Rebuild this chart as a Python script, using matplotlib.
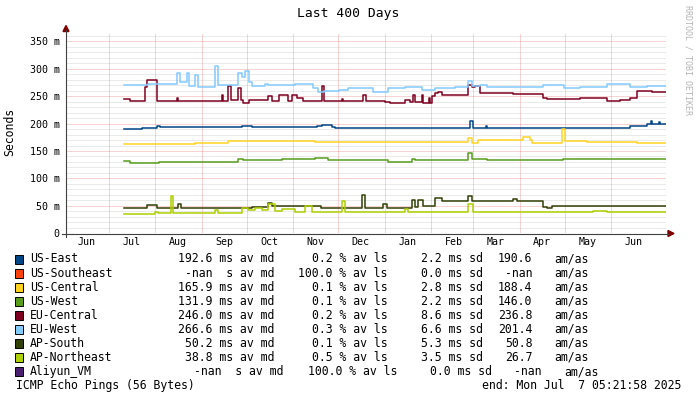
import matplotlib
matplotlib.use("Agg")
import matplotlib.pyplot as plt
from matplotlib.patches import Rectangle, Polygon
from matplotlib.lines import Line2D
from datetime import datetime, timedelta

plt.rcParams['font.family'] = ['DejaVu Sans Mono']

# time axis: 400 days ending at the graph's end time
end_time = datetime(2025, 7, 7, 5, 21, 58)
start_time = end_time - timedelta(days=400)
span_days = 400

# series data: days since start_time where the value changes, and median RTT in ms
us_east_days = [39, 46, 50.8, 60.8, 63, 117.4, 124, 167.4, 170.8, 177.4, 179.7, 269.7, 271.9,
                280, 281, 376.3, 387.4, 390, 391, 395.5, 396.5]
us_east_ms = [191, 190, 192, 196, 193, 195, 193, 196, 198, 194, 192, 205, 192,
              195, 192, 195, 199, 205, 199, 203, 199]

us_central_days = [39, 86.3, 108.6, 153, 166.3, 268.6, 270.8, 275.2, 279.6, 305.2, 309.6, 310.7,
                   330.7, 333, 347.4, 380.7]
us_central_ms = [162, 164, 168, 169, 167, 173, 165, 170, 170, 175, 170, 165,
                 191, 169, 167, 164]

us_west_days = [39, 43, 62, 115.2, 118.6, 144.1, 166.3, 175.2, 215.2, 230.8, 233, 268.6, 270.8,
                280.7, 295, 331.9]
us_west_ms = [132, 129, 130, 135, 133, 135, 137, 133, 130, 136, 134, 146, 135,
              133, 134, 135]

eu_central_days = [39, 43, 46.3, 53, 54.6, 60.8, 74.1, 75.2, 104.1, 105.2, 108.6, 110.3, 115.2, 117,
                   118.6, 122, 135.2, 137.4, 142, 148.6, 150.8, 154.1, 158.6, 170.8, 172.6, 184.1,
                   185.2, 198.6, 200.1, 213, 216.3, 226.3, 229.7, 231.9, 233, 237.4, 238.6, 242,
                   243, 244.1, 246.3, 248.6, 250.8, 253, 262, 268.6, 270.8, 273, 276.3, 283,
                   298.5, 318.5, 320.7, 343, 360.7, 369.6, 376.3, 380.7, 390.7, 394.1]
eu_central_ms = [244, 242, 241, 267, 279, 241, 247, 241, 252, 242, 268, 243, 264, 243,
                 238, 243, 250, 241, 252, 241, 253, 247, 242, 268, 241, 244,
                 241, 252, 241, 240, 238, 243, 240, 252, 240, 253, 238, 246,
                 238, 250, 255, 258, 253, 252, 253, 270, 267, 268, 256, 255,
                 254, 246, 245, 247, 241, 243, 246, 260, 257, 258]

eu_west_days = [39, 55, 74, 76.3, 80.8, 82, 86.3, 88.6, 99.7, 101.4, 115.2, 117.4, 119.7, 122, 124,
                133, 135, 153, 165.2, 168.6, 172, 182, 188.6, 205.2, 215.2, 226.3, 237.4, 246.3,
                259.7, 268.6, 270.8, 276.3, 280.7, 285.2, 303, 318.5, 332, 343, 360.7, 376.3, 387.4]
eu_west_ms = [270, 272, 292, 275, 293, 268, 288, 267, 305, 270, 292, 285, 296, 276, 268,
              272, 270, 272, 264, 257, 259, 261, 264, 258, 264, 266, 262, 265,
              267, 278, 268, 270, 267, 266, 267, 270, 265, 267, 272, 266, 268]

ap_south_days = [39, 54.1, 60.8, 75.2, 76.8, 115.2, 124.1, 135.2, 137.4, 170, 197.4, 199.7, 211.9,
                 214.1, 230.8, 233, 235.2, 238.6, 246.3, 250.8, 268.6, 270.8, 298.5, 300.7,
                 318.5, 320.7, 324.1]
ap_south_ms = [46, 51, 46.5, 53, 46, 47, 48, 55, 49, 47, 70, 47, 54,
               47, 61, 48, 61, 49, 65, 59, 68, 59, 62, 58,
               48, 46, 49]

ap_northeast_days = [39, 59.7, 61.9, 70.3, 71.9, 99.7, 101.9, 117.4, 121.9, 126.3, 130.8, 135.2,
                     139.7, 144.1, 153, 159.7, 164.1, 184.1, 186.3, 201.9, 226.3, 228.6, 268.6,
                     271.9, 351.9, 360.7]
ap_northeast_ms = [36, 39, 37, 68, 37, 43, 37, 47, 42, 47, 43, 54,
                   40, 45, 39, 49, 38, 58, 39, 38, 45, 38, 54,
                   38, 41, 38]

# legend rows: name, colour, avg, loss, sd, am/as
names = ['US-East', 'US-Southeast', 'US-Central', 'US-West', 'EU-Central', 'EU-West',
         'AP-South', 'AP-Northeast', 'Aliyun_VM']
colors = ['#004586', '#ff420e', '#ffd320', '#579d1c', '#7e0021', '#83caff',
          '#314004', '#aecf00', '#4b1f6f']
avg_txt = ['192.6 ms av md', '-nan  s av md', '165.9 ms av md', '131.9 ms av md', '246.0 ms av md',
           '266.6 ms av md', '50.2 ms av md', '38.8 ms av md', '-nan  s av md']
loss_txt = ['0.2', '100.0', '0.1', '0.1', '0.2', '0.3', '0.1', '0.5', '100.0']
sd_txt = ['2.2', '0.0', '2.8', '2.2', '8.6', '6.6', '5.3', '3.5', '0.0']
amas_txt = ['190.6', '-nan', '188.4', '146.0', '236.8', '201.4', '50.8', '26.7', '-nan']

series = {
    'US-East': (us_east_days, us_east_ms),
    'US-Central': (us_central_days, us_central_ms),
    'US-West': (us_west_days, us_west_ms),
    'EU-Central': (eu_central_days, eu_central_ms),
    'EU-West': (eu_west_days, eu_west_ms),
    'AP-South': (ap_south_days, ap_south_ms),
    'AP-Northeast': (ap_northeast_days, ap_northeast_ms),
}

W, H = 697, 399
fig = plt.figure(figsize=(W / 100, H / 100), dpi=100)
fig.patch.set_facecolor('white')


def fx(x):
    return x / W


def fy(y):
    return 1 - y / H


ymax = 365
y0_px = 233.3
px_per_ms = 0.5486
ax = fig.add_axes([fx(65.5), fy(y0_px), 600 / W, ymax * px_per_ms / H])
ax.set_xlim(0, span_days)
ax.set_ylim(0, ymax)
for s in ax.spines.values():
    s.set_visible(False)

# grid
for v in range(10, 361, 10):
    if v % 50 == 0:
        ax.axhline(v, color=(0.87, 0.2, 0.2, 0.42), lw=0.72, ls=(0, (1, 1)), zorder=1)
    else:
        ax.axhline(v, color=(0.55, 0.55, 0.55, 0.35), lw=0.72, ls=(0, (1, 1)), zorder=1)

month_starts = []
month_mids = []
month_names = []
for i in range(13):
    y_, m_ = 2024 + (5 + i) // 12, (5 + i) % 12 + 1
    mid = datetime(y_, m_, 16)
    month_mids.append((mid - start_time).total_seconds() / 86400)
    month_names.append(mid.strftime('%b'))
    if i > 0:
        st = datetime(y_, m_, 1)
        month_starts.append((st - start_time).total_seconds() / 86400)
for d in month_starts:
    ax.axvline(d, color=(0.87, 0.2, 0.2, 0.42), lw=0.72, ls=(0, (1, 1)), zorder=1)

for name, col in zip(names, colors):
    if name not in series:
        continue
    days, vals = series[name]
    ax.step(list(days) + [span_days], list(vals) + [vals[-1]], where='post',
            color=col, lw=1.1, zorder=3)

ax.set_xticks(month_mids, month_names)
ax.set_yticks(range(0, 351, 50), ['0'] + ['%d m' % v for v in range(50, 351, 50)])
ax.tick_params(axis='x', length=0, pad=2.5, labelsize=7.2)
ax.tick_params(axis='y', length=0, pad=4.3, labelsize=7.2)

# axes with arrows
axis_col = '#404040'
arrow_col = '#7f0000'
fig.add_artist(Line2D([fx(66), fx(66)], [fy(237), fy(30)], color=axis_col, lw=0.8))
fig.add_artist(Line2D([fx(62), fx(669)], [fy(233.5), fy(233.5)], color=axis_col, lw=0.8))
fig.add_artist(Polygon([(fx(66), fy(25.5)), (fx(63), fy(31.5)), (fx(69), fy(31.5))],
                       closed=True, color=arrow_col, transform=fig.transFigure))
fig.add_artist(Polygon([(fx(674), fy(233.5)), (fx(668), fy(230.5)), (fx(668), fy(236.5))],
                       closed=True, color=arrow_col, transform=fig.transFigure))

# titles
fig.text(fx(348), fy(14), 'Last 400 Days', ha='center', va='center', fontsize=9.4)
fig.text(fx(10), fy(132), 'Seconds', ha='center', va='center', rotation=90, fontsize=8.3)
fig.text(fx(688), fy(5), 'RRDTOOL / TOBI OETIKER', ha='center', va='top', rotation=270,
         fontsize=6.0, color='#b4b4b4')

# legend
fs = 8.3
for i, name in enumerate(names):
    yc = 259 + i * 14.07
    sh = 9.5 if name == 'Aliyun_VM' else 0
    fig.add_artist(Rectangle((fx(15), fy(yc + 4.5)), 7.5 / W, 9 / H, transform=fig.transFigure,
                             facecolor=colors[i], edgecolor='black', lw=0.7))
    fig.text(fx(30.2), fy(yc), name, ha='left', va='center', fontsize=fs)
    fig.text(fx(274 + sh), fy(yc), avg_txt[i], ha='right', va='center', fontsize=fs)
    fig.text(fx(387.5 + sh), fy(yc), loss_txt[i] + ' % av ls', ha='right', va='center', fontsize=fs)
    fig.text(fx(482.5 + sh), fy(yc), sd_txt[i] + ' ms sd', ha='right', va='center', fontsize=fs)
    fig.text(fx(532.5 + sh), fy(yc), amas_txt[i], ha='right', va='center', fontsize=fs)
    fig.text(fx(554.5 + sh), fy(yc), 'am/as', ha='left', va='center', fontsize=fs)

fig.text(fx(16), fy(385.6), 'ICMP Echo Pings (56 Bytes)', ha='left', va='center', fontsize=fs)
fig.text(fx(681), fy(385.6), 'end: Mon Jul  7 05:21:58 2025', ha='right', va='center', fontsize=fs)

fig.savefig('out.png', dpi=100)
